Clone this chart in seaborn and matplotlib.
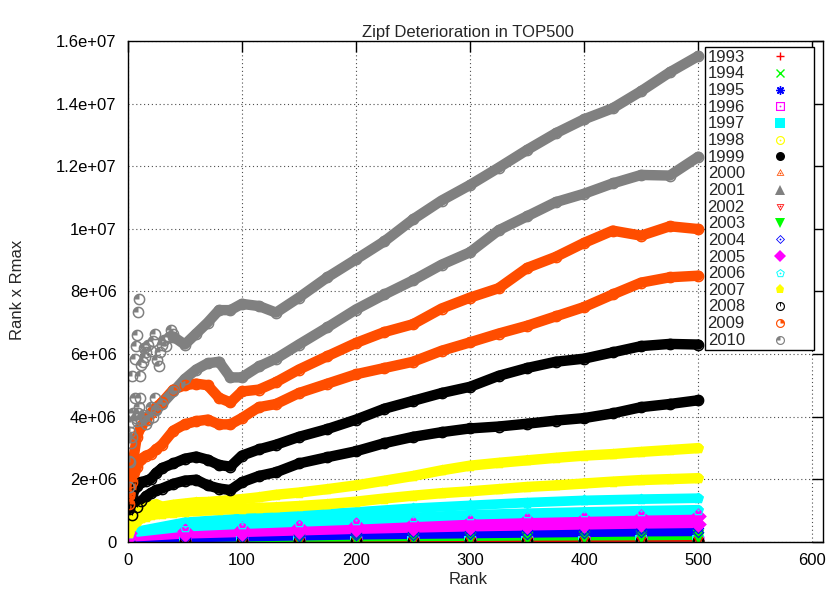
import numpy as np
import pandas as pd
import matplotlib
matplotlib.use("Agg")
import matplotlib.pyplot as plt
from matplotlib.path import Path
from matplotlib.lines import Line2D
from matplotlib.ticker import FuncFormatter, MultipleLocator
import seaborn as sns

# ---------------------------------------------------------------------------
# Rank x Rmax for the June and November TOP500 lists, in units of 1e6
# (Rmax in GFlops).  Larger lists are sampled on a finer rank grid.
# ---------------------------------------------------------------------------
years = list(range(1993, 2011))

rank_fine = [1, 4, 8, 12, 16, 20, 25, 30, 40, 50, 60, 70, 80, 90, 100, 115, 130,
             150, 175, 200, 225, 250, 275, 300, 325, 350, 375, 400, 425, 450, 475, 500]
rank_coarse = [1, 50, 100, 150, 200, 250, 300, 350, 400, 450, 500]

N = None
# 2010: the first ranks are scattered and listed separately below
y2010_nov = [N, N, N, N, N, N, N, N, 6.55, 6.3, 6.65, 7.0, 7.4, 7.4, 7.6, 7.53, 7.32,
             7.8, 8.45, 9.02, 9.6, 10.3, 10.9, 11.4, 11.95, 12.52, 13.05, 13.5, 13.85, 14.4, 15.0, 15.52]
y2010_jun = [N, N, N, N, N, N, 4.2, 4.4, 4.8, 5.2, 5.5, 5.7, 5.75, 5.25, 5.25, 5.6, 5.85,
             6.3, 6.85, 7.42, 7.9, 8.35, 8.85, 9.25, 9.95, 10.4, 10.85, 11.12, 11.45, 11.72, 11.7, 12.3]
y2009_nov = [1.5, 2.4, 3.36, 3.7, 3.9, 4.1, 4.3, 4.45, 4.86, 5.0, 5.05, 5.0, 4.6, 4.45, 4.8, 4.86, 5.1,
             5.5, 5.93, 6.35, 6.7, 6.95, 7.45, 7.8, 8.1, 8.75, 9.1, 9.55, 9.94, 9.78, 10.08, 9.99]
y2009_jun = [1.2, 1.9, 2.4, 2.65, 2.75, 2.8, 2.95, 3.1, 3.55, 3.75, 3.85, 3.9, 3.75, 3.75, 3.95, 4.3, 4.4,
             4.75, 5.05, 5.35, 5.55, 5.75, 6.1, 6.37, 6.65, 6.9, 7.2, 7.5, 7.9, 8.28, 8.45, 8.5]
y2008_nov = [1.1, 1.5, 1.77, 1.9, 1.95, 2.0, 2.2, 2.35, 2.5, 2.65, 2.72, 2.62, 2.45, 2.4, 2.75, 2.95, 3.1,
             3.35, 3.6, 3.9, 4.25, 4.5, 4.75, 4.95, 5.3, 5.55, 5.75, 5.85, 6.05, 6.25, 6.32, 6.3]
y2008_jun = [1.03, 0.85, 1.1, 1.3, 1.45, 1.55, 1.65, 1.7, 1.85, 1.95, 1.98, 1.8, 1.7, 1.65, 1.9, 2.1, 2.22,
             2.5, 2.7, 2.89, 3.15, 3.35, 3.5, 3.62, 3.68, 3.77, 3.87, 3.95, 4.1, 4.3, 4.4, 4.52]
y2007_nov = [0.48, 0.75, 0.95, 1.05, 1.1, 1.15, 1.2, 1.12, 1.18, 1.22, 1.26, 1.27, 1.3, 1.33, 1.36, 1.42, 1.5,
             1.57, 1.68, 1.8, 1.95, 2.1, 2.28, 2.43, 2.52, 2.6, 2.68, 2.75, 2.8, 2.87, 2.93, 2.99]
y2007_jun = [0.28, 0.5, 0.65, 0.75, 0.8, 0.85, 0.88, 0.9, 0.93, 0.96, 0.98, 1.0, 1.02, 1.04, 1.06, 1.08, 1.1,
             1.14, 1.2, 1.28, 1.38, 1.47, 1.55, 1.61, 1.68, 1.75, 1.8, 1.86, 1.92, 1.97, 2.0, 2.03]

y2006_nov = [0.28, 0.62, 0.75, 0.85, 0.95, 1.07, 1.16, 1.25, 1.32, 1.36, 1.39]
y2006_jun = [0.28, 0.48, 0.56, 0.63, 0.7, 0.78, 0.86, 0.91, 0.95, 0.99, 1.02]
y2005_nov = [0.28, 0.34, 0.4, 0.46, 0.52, 0.58, 0.63, 0.68, 0.73, 0.78, 0.82]
y2005_jun = [0.14, 0.24, 0.29, 0.34, 0.39, 0.43, 0.47, 0.5, 0.53, 0.56, 0.58]
y2004_nov = [0.07, 0.16, 0.2, 0.24, 0.27, 0.3, 0.33, 0.36, 0.38, 0.41, 0.43]
y2004_jun = [0.036, 0.11, 0.14, 0.17, 0.2, 0.22, 0.24, 0.26, 0.28, 0.3, 0.31]
y2003_nov = [0.036, 0.06, 0.08, 0.1, 0.12, 0.135, 0.15, 0.165, 0.18, 0.19, 0.2]
y2003_jun = [0.036, 0.04, 0.05, 0.06, 0.07, 0.08, 0.09, 0.1, 0.105, 0.11, 0.12]
y2002_nov = [0.036, 0.035, 0.04, 0.05, 0.055, 0.065, 0.07, 0.08, 0.085, 0.09, 0.098]
y2002_jun = [0.036, 0.025, 0.03, 0.035, 0.04, 0.045, 0.05, 0.055, 0.06, 0.063, 0.067]
y2001_nov = [0.0073, 0.02, 0.025, 0.03, 0.033, 0.036, 0.039, 0.041, 0.043, 0.045, 0.047]
y2001_jun = [0.0073, 0.015, 0.018, 0.021, 0.024, 0.026, 0.028, 0.03, 0.031, 0.033, 0.034]
y2000_nov = [0.005, 0.012, 0.015, 0.017, 0.019, 0.021, 0.023, 0.024, 0.025, 0.026, 0.028]
y2000_jun = [0.0049, 0.009, 0.011, 0.013, 0.015, 0.016, 0.018, 0.019, 0.02, 0.021, 0.022]
y1999_nov = [0.0025, 0.007, 0.009, 0.01, 0.011, 0.012, 0.013, 0.014, 0.015, 0.016, 0.017]
y1999_jun = [0.0018, 0.005, 0.006, 0.007, 0.008, 0.0085, 0.009, 0.0095, 0.01, 0.011, 0.012]
y1998_nov = [0.0015, 0.005, 0.006, 0.007, 0.008, 0.0085, 0.009, 0.01, 0.011, 0.0115, 0.012]
y1998_jun = [0.0013, 0.003, 0.004, 0.0045, 0.005, 0.0055, 0.006, 0.007, 0.0075, 0.008, 0.0085]
y1997_nov = [0.0011, 0.003, 0.0035, 0.004, 0.0045, 0.005, 0.0055, 0.006, 0.0062, 0.0064, 0.0066]
y1997_jun = [0.0011, 0.002, 0.0025, 0.003, 0.0033, 0.0036, 0.004, 0.0043, 0.0046, 0.0048, 0.0049]
y1996_nov = [0.0004, 0.0015, 0.002, 0.0024, 0.0027, 0.003, 0.0032, 0.0034, 0.0036, 0.0037, 0.0038]
y1996_jun = [0.0004, 0.0014, 0.0019, 0.0023, 0.0026, 0.0029, 0.0031, 0.0033, 0.0035, 0.0036, 0.0037]
y1995_nov = [0.0002, 0.001, 0.0013, 0.0016, 0.0018, 0.002, 0.0021, 0.0022, 0.0024, 0.0025, 0.0026]
y1995_jun = [0.0002, 0.0007, 0.0009, 0.0011, 0.0012, 0.0013, 0.0014, 0.0015, 0.0016, 0.0017, 0.0018]
y1994_nov = [0.0001, 0.0005, 0.0006, 0.0007, 0.0008, 0.0009, 0.0009, 0.001, 0.0011, 0.0011, 0.0012]
y1994_jun = [0.0001, 0.0004, 0.0005, 0.0005, 0.0006, 0.0006, 0.0007, 0.0007, 0.0008, 0.0008, 0.0009]
y1993_nov = [0.00006, 0.0002, 0.00025, 0.0003, 0.00033, 0.00036, 0.0004, 0.00042, 0.00045, 0.00048, 0.0005]
y1993_jun = [0.00006, 0.0001, 0.00012, 0.00013, 0.00014, 0.00015, 0.00016, 0.00017, 0.00018, 0.00019, 0.0002]

# scattered leading ranks of the two 2010 lists
head2010_rank = [4, 6, 7, 8, 9, 10, 11, 12, 13, 14, 15, 16, 18, 20, 22, 24, 26, 27, 28, 30,
                 32, 34, 36, 38, 40,
                 1, 2, 3, 4, 5, 6, 7, 8, 9, 10, 11, 12, 13, 14, 16, 18, 20, 22, 24,
                 1, 2, 3]
head2010_val = [5.3, 5.85, 6.25, 6.6, 7.35, 7.75, 5.3, 5.65, 5.75, 6.2, 5.9, 6.05, 6.3, 6.1, 6.4, 6.65, 5.8, 5.6, 6.05, 6.3,
                6.45, 6.25, 6.55, 6.75, 6.65,
                1.75, 2.55, 3.15, 3.35, 4.1, 4.6, 3.95, 3.85, 4.1, 4.3, 4.6, 3.9, 4.05, 4.0, 3.75, 3.9, 4.3, 4.0, 4.6,
                2.57, 3.52, 3.81]

series = {
    1993: (rank_coarse, [y1993_jun, y1993_nov]), 1994: (rank_coarse, [y1994_jun, y1994_nov]),
    1995: (rank_coarse, [y1995_jun, y1995_nov]), 1996: (rank_coarse, [y1996_jun, y1996_nov]),
    1997: (rank_coarse, [y1997_jun, y1997_nov]), 1998: (rank_coarse, [y1998_jun, y1998_nov]),
    1999: (rank_coarse, [y1999_jun, y1999_nov]), 2000: (rank_coarse, [y2000_jun, y2000_nov]),
    2001: (rank_coarse, [y2001_jun, y2001_nov]), 2002: (rank_coarse, [y2002_jun, y2002_nov]),
    2003: (rank_coarse, [y2003_jun, y2003_nov]), 2004: (rank_coarse, [y2004_jun, y2004_nov]),
    2005: (rank_coarse, [y2005_jun, y2005_nov]), 2006: (rank_coarse, [y2006_jun, y2006_nov]),
    2007: (rank_fine, [y2007_jun, y2007_nov]), 2008: (rank_fine, [y2008_jun, y2008_nov]),
    2009: (rank_fine, [y2009_jun, y2009_nov]), 2010: (rank_fine, [y2010_jun, y2010_nov]),
}

# ---------------------------------------------------------------------------
# gnuplot-like point types
# ---------------------------------------------------------------------------
def _poly(n, start_deg, r=1.0):
    t = np.deg2rad(start_deg + 360.0 * np.arange(n) / n)
    return np.column_stack([r * np.cos(t), r * np.sin(t)])


def _closed(verts):
    v = np.vstack([verts, verts[:1]])
    codes = [Path.MOVETO] + [Path.LINETO] * (len(verts) - 1) + [Path.CLOSEPOLY]
    return Path(v, codes)


def ring(outer, width=0.26, dot=True, extra=()):
    inner = outer * (1.0 - width)
    parts = [_closed(outer), _closed(inner[::-1])]
    if dot:
        parts.append(_closed(_poly(12, 0, 0.2)))
    parts.extend(extra)
    return Path.make_compound_path(*parts)


def wedge(a0, a1, r):
    t = np.deg2rad(np.linspace(a0, a1, 12))
    arc = np.column_stack([r * np.cos(t), r * np.sin(t)])
    return _closed(np.vstack([[0.0, 0.0], arc]))


CIRCLE = _poly(40, 0)
SQUARE = np.array([[1, -1], [1, 1], [-1, 1], [-1, -1]], float)
TRI_UP = _poly(3, 90)
TRI_DN = _poly(3, 270)
DIAMOND = _poly(4, 0)
PENTA = _poly(5, 90)
inner_r = 1.0 - 0.26

markers = {
    1993: "+", 1994: "x", 1995: (8, 2, 0),
    1996: ring(SQUARE), 1997: "s",
    1998: ring(CIRCLE), 1999: "o",
    2000: ring(TRI_UP, width=0.35), 2001: "^",
    2002: ring(TRI_DN, width=0.35), 2003: "v",
    2004: ring(DIAMOND), 2005: "D",
    2006: ring(PENTA), 2007: "p",
    2008: ring(CIRCLE, dot=False,
               extra=[_closed(np.array([[-0.1, 0.0], [0.1, 0.0], [0.1, inner_r], [-0.1, inner_r]]))]),
    2009: ring(CIRCLE, dot=False, extra=[wedge(0, 90, inner_r)]),
    2010: ring(CIRCLE, dot=False, extra=[wedge(90, 180, inner_r)]),
}
line_art = {1993, 1994, 1995}

palette = ["#ff0000", "#00ff00", "#0000ff", "#ff00ff", "#00ffff",
           "#ffff00", "#000000", "#ff4d00", "#808080"]
colors = {y: palette[i % 9] for i, y in enumerate(years)}

# ---------------------------------------------------------------------------
sns.set_style("white")
plt.rcParams["font.family"] = ["Liberation Sans", "DejaVu Sans"]
plt.rcParams["font.size"] = 12

fig = plt.figure(figsize=(8.28, 5.94), dpi=100)
ax = fig.add_axes([127.7 / 828, 1 - 541.7 / 594, 695.3 / 828, 500.7 / 594])

band_lw = {2010: 7.5, 2009: 7.5, 2008: 7.5, 2007: 7.5, 2006: 7.0, 2005: 6.5, 2004: 6.0}

for yr in years:
    ranks, lists = series[yr]
    col = colors[yr]
    mk = markers[yr]
    for vals in lists:
        v = np.array([np.nan if a is None else a for a in vals], float)
        keep = ~np.isnan(v)
        df = pd.DataFrame({"rank": np.array(ranks)[keep], "value": v[keep] * 1e6})
        sns.lineplot(data=df, x="rank", y="value", ax=ax, color=col,
                     lw=band_lw.get(yr, 3.0), estimator=None, sort=False,
                     solid_capstyle="round", solid_joinstyle="round", zorder=2)
        if yr in line_art:
            sns.scatterplot(data=df, x="rank", y="value", ax=ax, color=col,
                            marker=mk, s=40, linewidth=1.0, zorder=3)
        else:
            sns.scatterplot(data=df, x="rank", y="value", ax=ax, color=col,
                            marker=mk, s=72, linewidth=0, zorder=3)
    if yr == 2010:
        hd = pd.DataFrame({"rank": head2010_rank, "value": np.array(head2010_val) * 1e6})
        sns.scatterplot(data=hd, x="rank", y="value", ax=ax, color=col,
                        marker=mk, s=72, linewidth=0, zorder=3)

# axes, ticks, grid
ax.set_xlim(0, 609.3)
ax.set_ylim(0, 1.6e7)
ax.xaxis.set_major_locator(MultipleLocator(100))
ax.yaxis.set_major_locator(MultipleLocator(2e6))
ax.yaxis.set_major_formatter(FuncFormatter(lambda v, p: "%g" % v))
ax.tick_params(direction="in", length=8, width=1, top=True, right=True,
               labelsize=12, pad=8, colors="black")
ax.grid(True, linestyle=(0, (1, 2.5)), color="0.3", linewidth=0.8)
ax.set_axisbelow(True)
for sp in ax.spines.values():
    sp.set_color("black")
    sp.set_linewidth(1.0)
    sp.set_zorder(6)

ax.set_xlabel("Rank", fontsize=12)
ax.set_ylabel("Rank x Rmax", fontsize=12)
ax.xaxis.set_label_coords((468 - 127.7) / 695.3, (541.7 - 580) / 500.7)
ax.xaxis.label.set_va("center")
ax.yaxis.set_label_coords((18 - 127.7) / 695.3, (541.7 - 290) / 500.7)
ax.yaxis.label.set_va("center")
ax.set_title("Zipf Deterioration in TOP500", fontsize=12)
ax.title.set_position(((468 - 127.7) / 695.3, 1.0))
ax.title.set_va("center")
ax.title.set_y((541.7 - 10) / 500.7)

# legend: year labels on the left, point types on the right
handles = []
for yr in years:
    if yr in line_art:
        h = Line2D([], [], linestyle="none", marker=markers[yr], color=colors[yr],
                   markersize=6, markeredgewidth=1.0)
    else:
        h = Line2D([], [], linestyle="none", marker=markers[yr], color=colors[yr],
                   markerfacecolor=colors[yr], markersize=6.5, markeredgewidth=0)
    handles.append(h)
leg = ax.legend(handles, [str(y) for y in years], loc="upper left",
                bbox_to_anchor=(705 / 828, 1 - 47 / 594), bbox_transform=fig.transFigure,
                markerfirst=False, frameon=True, fancybox=False, framealpha=1,
                edgecolor="black", fontsize=12, borderpad=0.15, borderaxespad=0,
                handlelength=3.8, handletextpad=0.2, labelspacing=0.1,
                handleheight=0.5)
leg.get_frame().set_linewidth(1.0)
leg.set_zorder(10)

fig.savefig("out.png", dpi=100)
